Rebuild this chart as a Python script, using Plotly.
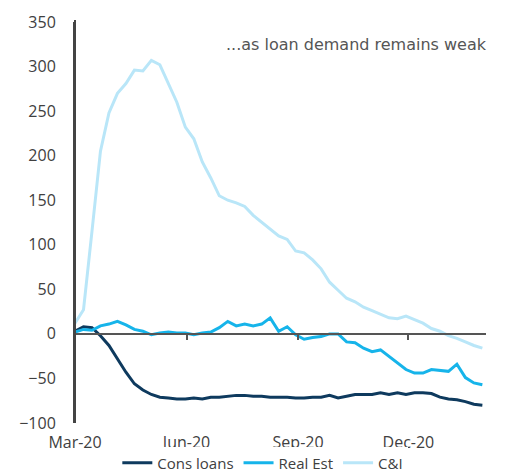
import pandas as pd
import plotly.graph_objects as go

dates = pd.date_range("2020-03-01", periods=49, freq="7D")

cons_loans = [3, 8, 7, -2, -13, -28, -43, -56, -63, -68, -71, -72, -73, -73, -72, -73,
              -71, -71, -70, -69, -69, -70, -70, -71, -71, -71, -72, -72, -71, -71, -69, -72,
              -70, -68, -68, -68, -66, -68, -66, -68, -66, -66, -67, -71, -73, -74, -76, -79, -80]
real_est = [2, 5, 4, 9, 11, 14, 10, 5, 3, -1, 1, 2, 1, 1, -1, 1,
            2, 7, 14, 9, 11, 9, 11, 18, 3, 8, -1, -6, -4, -3, 0, 0,
            -9, -10, -16, -20, -18, -25, -33, -40, -44, -44, -40, -41, -42, -34, -49, -55, -57]
c_and_i = [12, 27, 115, 205, 248, 270, 281, 296, 295, 307, 302, 280, 260, 232, 219, 193,
           175, 155, 150, 147, 143, 133, 125, 118, 110, 106, 93, 91, 83, 73, 58, 49,
           40, 36, 30, 26, 22, 18, 17, 20, 16, 12, 6, 3, -2, -5, -9, -13, -16]

series_names = ["Cons loans", "Real Est", "C&I"]
colors = ["#0e3a5e", "#16b4ea", "#b9e6f8"]
tick_dates = ["2020-03-01", "2020-06-01", "2020-09-01", "2020-12-01"]
tick_labels = ["Mar-20", "Jun-20", "Sep-20", "Dec-20"]
y_ticks = [-100, -50, 0, 50, 100, 150, 200, 250, 300, 350]
x_range = ["2020-03-01", "2021-02-03"]
y_range = [-100, 350]
note = "...as loan demand remains weak"

fig = go.Figure()
for name, vals, col in zip(series_names, [cons_loans, real_est, c_and_i], colors):
    fig.add_trace(go.Scatter(x=dates, y=vals, name=name, mode="lines",
                             line=dict(color=col, width=3)))

font_main = "'Open Sans', sans-serif"
zero_pos = (0 - y_range[0]) / (y_range[1] - y_range[0])

fig.update_layout(
    width=516, height=472,
    margin=dict(l=75, r=30, t=22, b=49, autoexpand=False),
    plot_bgcolor="white", paper_bgcolor="white",
    font=dict(family=font_main, size=16, color="#404040"),
    showlegend=True,
    legend=dict(orientation="h", x=0.457, xanchor="center", y=-0.1, yanchor="middle",
                font=dict(size=15, color="#404040"), itemwidth=30, tracegroupgap=0),
    xaxis=dict(range=x_range, type="date", anchor="free", position=zero_pos,
               showline=True, linecolor="#555555", linewidth=1.5,
               tickvals=tick_dates, ticktext=tick_labels,
               ticks="outside", ticklen=5, tickwidth=1.5, tickcolor="#555555",
               showgrid=False, zeroline=False, ticklabelstandoff=89),
    yaxis=dict(range=y_range, tickvals=y_ticks, showgrid=False, zeroline=False,
               anchor="x", showline=True, linecolor="#444444", linewidth=2,
               ticks="outside", ticklen=14, tickcolor="rgba(0,0,0,0)"),
    annotations=[dict(text=note, xref="paper", yref="paper", x=1.007, y=0.945,
                      xanchor="right", yanchor="middle", showarrow=False,
                      font=dict(family="'DejaVu Sans', sans-serif", size=16, color="#555555"))],
    shapes=[dict(type="line", xref="paper", yref="paper", x0=0, x1=0, y0=0, y1=1.005,
                 line=dict(color="#444444", width=2), layer="above")],
)

fig.write_html("out.html", config={"displayModeBar": False},
               post_script="document.body.style.margin='0';")
